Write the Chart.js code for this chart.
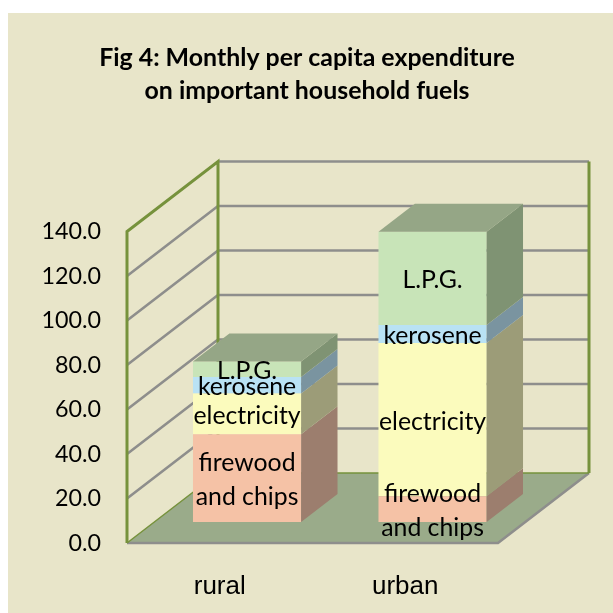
<!DOCTYPE html>
<html><head><meta charset="utf-8">
<script src="https://cdn.jsdelivr.net/npm/chart.js@4"></script>
<style>html,body{margin:0;padding:0;background:#fff}canvas{position:absolute;left:0;top:0}</style>
</head><body><canvas id="c" width="613" height="613"></canvas>
<script>
const categories = ["rural", "urban"];
const tickValues = [0, 20, 40, 60, 80, 100, 120, 140];
const seriesNames = ["firewood\nand chips", "electricity", "kerosene", "L.P.G."];
const firewood = [39.4, 11.6];
const electricity = [18.3, 68.9];
const kerosene = [7.5, 8.0];
const lpg = [6.9, 41.9];
const frontColors = ["#f5c2a6", "#fbfbbd", "#b9e2f4", "#c8e4b8"];
const sideColors = ["#9c7e6e", "#9c9c78", "#7a94a0", "#7f9373"];
const topColor = "#95a686";
const pageBg = "#e8e5c9";
const titleLines = ["Fig 4: Monthly per capita expenditure", "on important household fuels"];
const DEPTH = {x: 91, y: 70, barStart: 0.3, barEnd: 0.7};
const FONT = "Lato";

const scene = {
  id: "scene",
  beforeDraw(ch) {
    const c = ch.ctx;
    c.save();
    c.fillStyle = "#fff"; c.fillRect(0, 0, 613, 613);
    c.fillStyle = pageBg; c.fillRect(8, 13, 605, 600);
    c.fillStyle = "#000"; c.textAlign = "center"; c.textBaseline = "alphabetic";
    c.font = "bold 24.9px " + FONT;
    titleLines.forEach((t, i) => c.fillText(t, 307, 66 + i * 33));
    c.restore();
  },
  beforeDatasetsDraw(ch) {
    const c = ch.ctx, y = ch.scales.y, a = ch.chartArea;
    const dx = DEPTH.x, dy = DEPTH.y;
    c.save();
    c.fillStyle = "#9aab8a";
    c.beginPath();
    c.moveTo(a.left, a.bottom); c.lineTo(a.right, a.bottom);
    c.lineTo(a.right + dx, a.bottom - dy); c.lineTo(a.left + dx, a.bottom - dy);
    c.closePath(); c.fill();
    c.strokeStyle = "#8e8e8c"; c.lineWidth = 2.6;
    tickValues.forEach(v => {
      const p = y.getPixelForValue(v);
      if (v === 0) return;
      c.beginPath();
      if (v !== 140) { c.moveTo(a.left, p); c.lineTo(a.left + dx, p - dy); }
      else { c.moveTo(a.left + dx, p - dy); }
      c.lineTo(a.right + dx, p - dy);
      c.stroke();
    });
    c.beginPath();
    c.moveTo(a.left, a.bottom); c.lineTo(a.right, a.bottom); c.lineTo(a.right + dx, a.bottom - dy);
    c.stroke();
    c.strokeStyle = "#76923c"; c.lineWidth = 3;
    c.beginPath();
    c.moveTo(a.left, a.bottom); c.lineTo(a.left, a.top); c.lineTo(a.left + dx, a.top - dy); c.lineTo(a.left + dx, a.bottom - dy);
    c.moveTo(a.right + dx, a.top - dy); c.lineTo(a.right + dx, a.bottom - dy);
    c.stroke();
    c.lineWidth = 1.5;
    c.beginPath();
    c.moveTo(a.left + dx, a.bottom - dy); c.lineTo(a.right + dx, a.bottom - dy);
    c.moveTo(a.left, a.bottom); c.lineTo(a.left + dx, a.bottom - dy);
    c.stroke();
    c.restore();
    c.save();
    c.translate(DEPTH.x * DEPTH.barStart, -DEPTH.y * DEPTH.barStart);
  },
  afterDatasetsDraw(ch) {
    const c = ch.ctx;
    const bw = DEPTH.x * (DEPTH.barEnd - DEPTH.barStart), bh = DEPTH.y * (DEPTH.barEnd - DEPTH.barStart);
    ch.data.datasets.forEach((ds, i) => {
      ch.getDatasetMeta(i).data.forEach(b => {
        const r = b.x + b.width / 2;
        c.fillStyle = sideColors[i];
        c.beginPath();
        c.moveTo(r, b.y); c.lineTo(r + bw, b.y - bh); c.lineTo(r + bw, b.base - bh); c.lineTo(r, b.base);
        c.closePath(); c.fill();
      });
    });
    const last = ch.getDatasetMeta(ch.data.datasets.length - 1).data;
    last.forEach(b => {
      const l = b.x - b.width / 2, r = b.x + b.width / 2;
      c.fillStyle = topColor;
      c.beginPath();
      c.moveTo(l, b.y); c.lineTo(r, b.y); c.lineTo(r + bw, b.y - bh); c.lineTo(l + bw, b.y - bh);
      c.closePath(); c.fill();
    });
    c.fillStyle = "#000"; c.textAlign = "center"; c.textBaseline = "middle";
    c.font = "24.8px " + FONT;
    ch.data.datasets.forEach((ds, i) => {
      ch.getDatasetMeta(i).data.forEach(b => {
        const lines = seriesNames[i].split("\n");
        const mid = (b.y + b.base) / 2 + 2;
        lines.forEach((t, k) => c.fillText(t, b.x, mid + (k - (lines.length - 1) / 2) * 34));
      });
    });
    c.restore();
  }
};

new Chart(document.getElementById("c"), {
  type: "bar",
  data: {
    labels: categories,
    datasets: [firewood, electricity, kerosene, lpg].map((d, i) => ({
      label: seriesNames[i], data: d, backgroundColor: frontColors[i],
      borderWidth: 0, barPercentage: 0.583, categoryPercentage: 1
    }))
  },
  options: {
    responsive: false, animation: false,
    devicePixelRatio: 1,
    layout: {padding: {left: 0, right: 115, top: 231.5, bottom: 0}},
    plugins: {legend: {display: false}, title: {display: false}, tooltip: {enabled: false}},
    scales: {
      x: {
        stacked: true,
        grid: {display: false}, border: {display: false},
        afterFit(s) { s.height = 70; },
        ticks: {color: "#000", font: {family: "Liberation Sans", size: 26}, padding: 20, maxRotation: 0}
      },
      y: {
        stacked: true, min: 0, max: 140,
        grid: {display: false}, border: {display: false},
        afterFit(s) { s.width = 127; },
        afterBuildTicks(s) { s.ticks = tickValues.map(v => ({value: v})); },
        ticks: {color: "#000", padding: 18, font: {family: FONT, size: 23.3}, callback: v => v.toFixed(1)}
      }
    }
  },
  plugins: [scene]
});
</script></body></html>
